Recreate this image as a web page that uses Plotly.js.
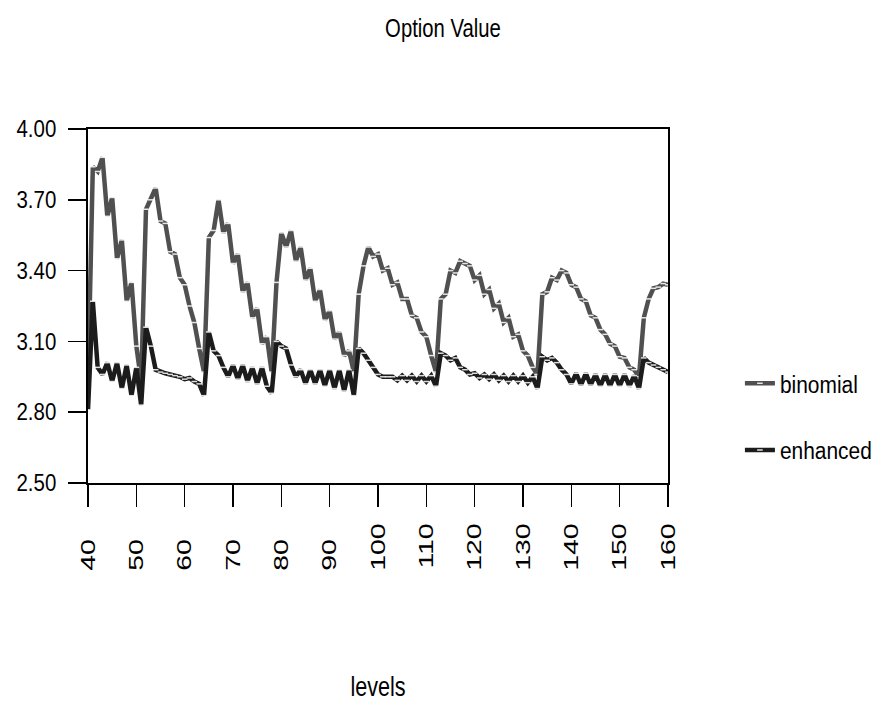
<!DOCTYPE html>
<html>
<head>
<meta charset="utf-8">
<script src="https://cdn.plot.ly/plotly-3.0.1.min.js"></script>
<style>
  html, body { margin: 0; padding: 0; background: #ffffff; }
  #chart { width: 886px; height: 704px; }
</style>
</head>
<body>
<div id="chart"></div>
<script>
// ---- data ----
const levels = [
  40,41,42,43,44,45,46,47,48,49,
  50,51,52,53,54,55,56,57,58,59,
  60,61,62,63,64,65,66,67,68,69,
  70,71,72,73,74,75,76,77,78,79,
  80,81,82,83,84,85,86,87,88,89,
  90,91,92,93,94,95,96,97,98,99,
  100,101,102,103,104,105,106,107,108,109,
  110,111,112,113,114,115,116,117,118,119,
  120,121,122,123,124,125,126,127,128,129,
  130,131,132,133,134,135,136,137,138,139,
  140,141,142,143,144,145,146,147,148,149,
  150,151,152,153,154,155,156,157,158,159,
  160
];

const binomial = [
  2.91,3.84,3.82,3.88,3.63,3.71,3.45,3.53,3.27,3.35,
  3.08,2.93,3.66,3.70,3.75,3.61,3.60,3.48,3.47,3.37,
  3.34,3.25,3.18,3.07,2.97,3.54,3.57,3.70,3.56,3.60,
  3.43,3.47,3.31,3.35,3.20,3.24,3.09,3.12,2.97,3.35,
  3.56,3.50,3.57,3.44,3.50,3.36,3.41,3.27,3.32,3.19,
  3.23,3.11,3.14,3.04,3.06,2.97,3.30,3.42,3.50,3.46,
  3.47,3.40,3.41,3.34,3.35,3.28,3.28,3.21,3.20,3.14,
  3.12,3.04,2.97,3.28,3.30,3.40,3.39,3.44,3.43,3.42,
  3.36,3.38,3.30,3.32,3.24,3.26,3.18,3.20,3.12,3.13,
  3.06,3.04,2.99,2.96,3.30,3.31,3.37,3.36,3.40,3.39,
  3.34,3.33,3.28,3.27,3.21,3.20,3.15,3.13,3.09,3.08,
  3.035,3.03,2.99,2.98,2.95,3.20,3.28,3.325,3.33,3.345,
  3.34
];

const enhanced = [
  2.81,3.27,2.99,2.96,3.01,2.93,3.01,2.90,3.00,2.87,
  2.99,2.83,3.16,3.08,2.98,2.97,2.965,2.96,2.955,2.95,
  2.94,2.945,2.93,2.92,2.87,3.14,3.06,3.04,2.99,2.95,
  3.00,2.94,3.00,2.93,2.99,2.92,2.99,2.91,2.88,3.10,
  3.08,3.07,3.00,2.95,2.98,2.92,2.98,2.92,2.98,2.91,
  2.98,2.90,2.98,2.89,2.98,2.87,3.07,3.05,3.02,2.99,
  2.96,2.95,2.95,2.95,2.935,2.955,2.935,2.955,2.93,2.955,
  2.93,2.955,2.91,3.05,3.04,3.02,3.03,2.99,2.98,2.96,
  2.965,2.945,2.96,2.94,2.96,2.935,2.955,2.93,2.955,2.93,
  2.955,2.925,2.95,2.90,3.035,3.02,3.03,3.01,2.98,2.96,
  2.92,2.965,2.915,2.965,2.915,2.96,2.91,2.96,2.91,2.96,
  2.91,2.96,2.91,2.955,2.90,3.03,3.01,3.00,2.99,2.98,
  2.97
];

const xTickVals = [40,50,60,70,80,90,100,110,120,130,140,150,160];
const xTickText = ["40","50","60","70","80","90","100","110","120","130","140","150","160"];
const yTickVals = [2.5,2.8,3.1,3.4,3.7,4.0];
const yTickText = ["2.50","2.80","3.10","3.40","3.70","4.00"];

const seriesNames = ["binomial","enhanced"];
const seriesColors = ["#505050","#1c1c1c"];

// pad two-digit labels so that their starts line up like the reference
const padText = xTickText.map(t => t.length < 3 ? t + "\u00a0\u00a0" : t);

const SANS = "'Liberation Sans', Arial, sans-serif";

function makeTrace(name, y, color) {
  return {
    x: levels, y: y, name: name, type: "scatter", mode: "lines+markers",
    line: { color: color, width: 4.5 },
    marker: { symbol: "line-ew", size: 4, color: "#ffffff",
              line: { color: "rgba(255,255,255,0.85)", width: 1.5 } },
    legendgroup: name, hoverinfo: "skip"
  };
}

const traces = [
  makeTrace(seriesNames[0], binomial, seriesColors[0]),
  makeTrace(seriesNames[1], enhanced, seriesColors[1])
];

const layout = {
  width: 886, height: 704,
  paper_bgcolor: "#ffffff", plot_bgcolor: "#ffffff",
  margin: { l: 88, r: 218, t: 129, b: 221, pad: 0, autoexpand: false },
  title: { text: "Option Value", x: 0.5, xref: "container", y: 0.96, yanchor: "middle",
           font: { family: SANS, size: 26, color: "#000000" } },
  showlegend: true,
  legend: { x: 1.124, xanchor: "left", y: 0.343, yanchor: "top",
            font: { family: SANS, size: 23.5, color: "#000000" },
            traceorder: "grouped", tracegroupgap: 33, itemwidth: 30,
            bgcolor: "rgba(0,0,0,0)" },
  xaxis: {
    range: [40, 160], tickmode: "array", tickvals: xTickVals, ticktext: padText,
    tickangle: -90, ticks: "outside", ticklen: 22, tickwidth: 1.5, tickcolor: "#000",
    ticklabelstandoff: 8,
    showline: true, linecolor: "#000", linewidth: 2, mirror: true,
    showgrid: false, zeroline: false,
    tickfont: { family: SANS, size: 21, color: "#000" },
    title: { text: "levels", standoff: 120,
             font: { family: SANS, size: 27, color: "#000" } },
    automargin: false
  },
  yaxis: {
    range: [2.5, 4.0], tickmode: "array", tickvals: yTickVals, ticktext: yTickText,
    ticks: "outside", ticklen: 18, tickwidth: 1.5, tickcolor: "#000",
    ticklabelstandoff: 7,
    showline: true, linecolor: "#000", linewidth: 2, mirror: true,
    showgrid: false, zeroline: false,
    tickfont: { family: SANS, size: 23.5, color: "#000" },
    automargin: false
  }
};

// horizontally condense / stretch text glyphs to imitate the reference typefaces
function adjustText(selector, factor) {
  document.querySelectorAll(selector).forEach(el => {
    const w = el.getComputedTextLength();
    if (w > 0) {
      el.setAttribute("textLength", (w * factor).toFixed(1));
      el.setAttribute("lengthAdjust", "spacingAndGlyphs");
    }
  });
}

Plotly.newPlot("chart", traces, layout, { staticPlot: true, displayModeBar: false })
  .then(() => {
    adjustText("#chart .gtitle", 0.78);
    adjustText("#chart .xtitle", 0.8);
    adjustText("#chart .legendtext", 0.89);
    adjustText("#chart .ytick text", 0.87);
    adjustText("#chart .xtick text", 1.35);
  });
</script>
</body>
</html>
